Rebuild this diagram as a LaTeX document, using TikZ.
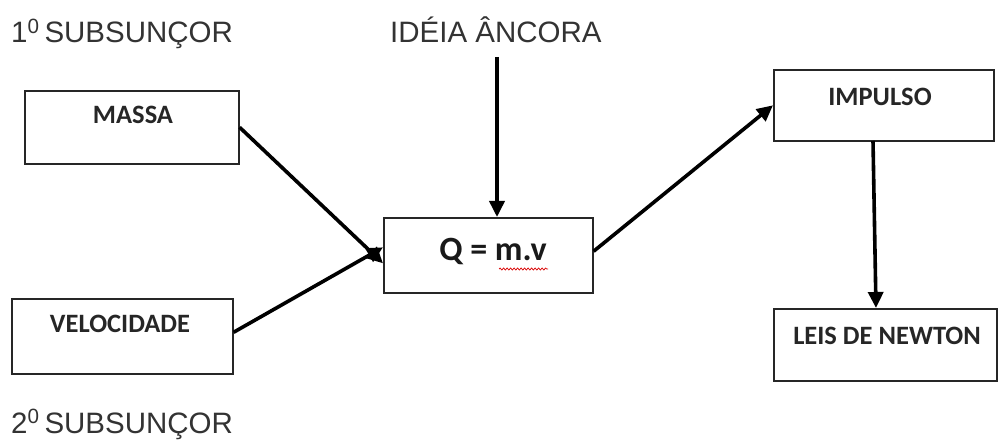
\documentclass[tikz,border=0pt]{standalone}
\usepackage{fontspec}
\setmainfont{Liberation Sans}
\newfontfamily\boxfont{Carlito}
\usetikzlibrary{arrows.meta,decorations.pathmorphing}
\begin{document}
\begin{tikzpicture}[x=1pt,y=-1pt,
  conceptbox/.style={draw=black!85,line width=1.6pt,rectangle,inner sep=0pt,anchor=north west},
  boxlabel/.style={font=\boxfont\bfseries\fontsize{26.5}{30}\selectfont,text=black!85,inner sep=0pt},
  heading/.style={font=\fontsize{29.5}{33}\selectfont,text=black!80,inner sep=0pt,anchor=base west},
  link/.style={line width=3.6pt,-{Triangle[length=16pt,width=15pt]}}]
\useasboundingbox (0,0) rectangle (998,446);

% headings
\node[heading] (sub1) at (11,43) {1\textsuperscript{0}\,SUBSUNÇOR};
\node[heading] (anchor) at (390,43) {IDÉIA ÂNCORA};
\node[heading] (sub2) at (11,433) {2\textsuperscript{0}\,SUBSUNÇOR};

% boxes
\node[conceptbox,minimum width=214pt,minimum height=73pt] (massa) at (24,90) {};
\node[conceptbox,minimum width=221pt,minimum height=75pt] (velo) at (11,298) {};
\node[conceptbox,minimum width=209pt,minimum height=75pt] (q) at (383,217) {};
\node[conceptbox,minimum width=220pt,minimum height=71pt] (imp) at (773,69) {};
\node[conceptbox,minimum width=223pt,minimum height=72pt] (leis) at (773,308) {};

% box texts
\node[boxlabel] at (133,115) {MASSA};
\node[boxlabel] at (120,324) {VELOCIDADE};
\node[boxlabel] at (880,97) {IMPULSO};
\node[boxlabel] at (887,336) {LEIS DE NEWTON};
\node[font=\boxfont\bfseries\fontsize{34}{38}\selectfont,text=black!90,inner sep=0pt] (qtext) at (493,251) {Q = m.v};
\draw[red!85!black,line width=0.7pt,decorate,decoration={snake,amplitude=1pt,segment length=3.5pt}]
  (499,269) -- (548,269);

% connectors
\coordinate (anchortip) at (497,57);
\coordinate (impfoot) at (873,141);
\coordinate (leishead) at (876,308);
\draw[link] (massa.east) -- ([yshift=-8pt]q.west);
\draw[link] ([yshift=4pt]velo.east) -- ([yshift=8pt]q.west);
\draw[link] (anchortip) -- (q.north -| anchortip);
\draw[link] ([yshift=4pt]q.east) -- (imp.west);
\draw[link] (impfoot) -- (leishead);
\end{tikzpicture}
\end{document}
